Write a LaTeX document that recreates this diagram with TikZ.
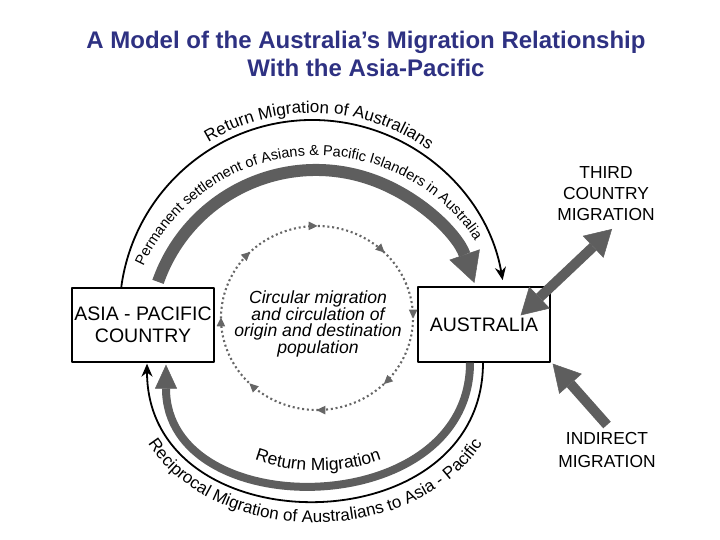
\documentclass[tikz,border=0pt]{standalone}
\usepackage{fontspec}
\setmainfont{Liberation Sans}
\usetikzlibrary{arrows.meta, calc, decorations.text, decorations.markings}
\definecolor{figtitle}{HTML}{2E3182}
\definecolor{figband}{HTML}{5E5E5E}
\definecolor{figdot}{HTML}{666666}

\begin{document}
\begin{tikzpicture}[
  x=1pt, y=1pt,
  line join=round,
  country/.style  = {draw=black, line width=1.3pt, fill=white, inner sep=2pt,
                     anchor=center, align=center,
                     font=\fontsize{19.5}{22.5}\selectfont},
  flowlbl/.style  = {align=center, anchor=center,
                     font=\fontsize{17.4}{21}\selectfont},
  midtxt/.style   = {align=center, anchor=center,
                     font=\itshape\fontsize{17.6}{16.7}\selectfont},
  band/.style     = {draw=figband, line width=12pt},
  thinarc/.style  = {draw=black, line width=1.8pt,
                     -{Stealth[length=13pt, width=11pt]}},
  circul/.style   = {draw=figdot, line width=2.1pt, dash pattern=on 2pt off 2.8pt},
  bigarrow/.style = {draw=figband, line width=10pt},
  arctxt/.style   = {decorate, decoration={text along path, text align=center}}
]
\useasboundingbox (0,0) rectangle (720,540);

\node[font=\bfseries\fontsize{24}{28}\selectfont, text=figtitle, align=center]
  (title) at (366,486) {A Model of the Australia’s Migration Relationship\\With the Asia-Pacific};

\node[country, minimum width=142pt, minimum height=74pt] (asia) at (143,215) {ASIA - PACIFIC\\COUNTRY};
\node[country, minimum width=132pt, minimum height=75pt] (aus)  at (484,215.5) {AUSTRALIA};
\node[midtxt] (circ) at (318,216) {Circular migration\\and circulation of\\origin and destination\\population};

\node[flowlbl] (third) at (606,346) {THIRD\\COUNTRY\\MIGRATION};
\node[flowlbl, font=\fontsize{17.4}{23}\selectfont] (indirect) at (607,89.5) {INDIRECT\\MIGRATION};

\coordinate (cset)  at (316,202.5);
\coordinate (cret)  at (312.5,227);
\coordinate (ctxt)  at (316.5,194);
\coordinate (cloop) at (317,222);

% upper arcs
\draw[band, -{Triangle[length=30pt, width=32pt, line width=0.5pt]}]
  ($(cset)+(160.6:167.5)$) arc[start angle=160.6, end angle=19, radius=167.5];
\draw[thinarc] ($(cret)+(172.2:193)$) arc[start angle=172.2, end angle=9.8, radius=193];

\path[arctxt, decoration={text={|\fontsize{17}{20}\selectfont|Return Migration of Australians}}]
  ($(cret)+(150:200)$) arc[start angle=150, end angle=25.8, radius=200];
\path[arctxt, decoration={text={|\fontsize{14.5}{17}\selectfont|Permanent settlement of Asians {\&} Pacific Islanders in Australia}}]
  ($(ctxt)+(174.4:190.5)$) arc[start angle=174.4, end angle=14.4, radius=190.5];

% lower arcs
\draw[band, line width=8pt, -{Triangle[length=24pt, width=22pt, line width=0.5pt]}]
  ($(aus.south)+(-14,0)$) .. controls +(0,-160) and +(0,-160) .. ($(asia.south)+(23,-2)$);
\draw[thinarc] ($(aus.south)+(-1,0)$) .. controls +(0,-184) and +(0,-184) .. ($(asia.south)+(4,-1)$);

\path[arctxt, decoration={text={|\fontsize{17.5}{20}\selectfont|Return  Migration}}]
  ($(asia.south)+(37,0)$) .. controls +(0,-144) and +(0,-144) .. ($(aus.south)+(-28,0)$);
\path[arctxt, decoration={text={|\fontsize{17}{20}\selectfont|Reciprocal Migration of Australians to Asia - Pacific}}]
  ($(asia.south)+(-18,0)$) .. controls +(0,-213) and +(0,-213) .. ($(aus.south)+(21,0)$);

% circulation loop
\draw[circul, postaction={decorate}, decoration={markings,
    mark=between positions 0.0625 and 1 step 0.125 with {\arrow{Triangle[length=9pt, width=8pt]}}}]
  ($(cloop)+(22.5:96 and 92)$) arc[start angle=22.5, end angle=-337.5, x radius=96, y radius=92];

% third country and indirect flows
\coordinate (thirdtail) at ($(aus.north east)+(-30,-29)$);
\coordinate (thirdtip)  at (612,311);
\coordinate (indtail)   at (607,115);
\coordinate (indtip)    at ($(aus.south east)+(2,-1)$);

\draw[bigarrow, {Triangle[length=26pt, width=30pt, line width=0.5pt]}-{Triangle[length=26pt, width=30pt, line width=0.5pt]}]
  (thirdtail) -- (thirdtip);
\draw[bigarrow, -{Triangle[length=27pt, width=30pt, line width=0.5pt]}] (indtail) -- (indtip);

\end{tikzpicture}
\end{document}
